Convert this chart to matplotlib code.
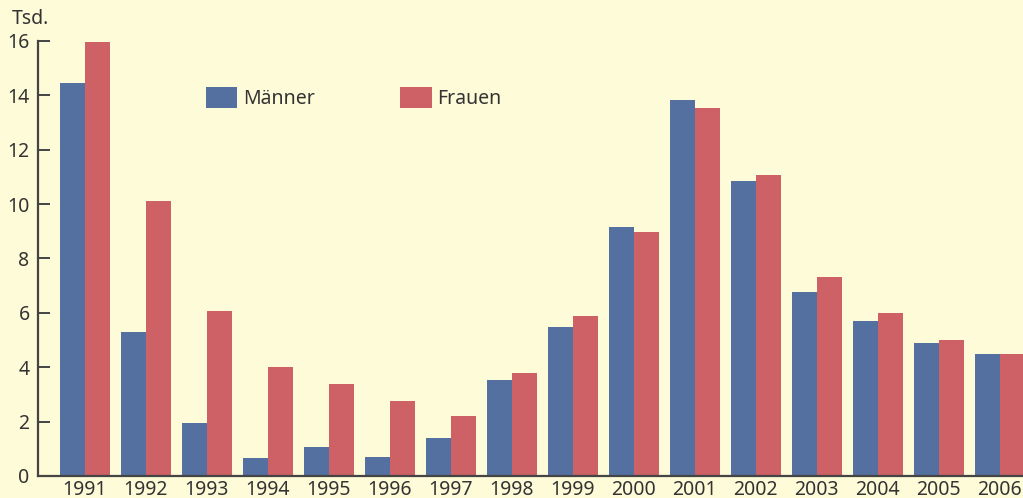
import numpy as np
import matplotlib
matplotlib.use("Agg")
import matplotlib.pyplot as plt
from matplotlib.patches import Patch

# Values in thousands (Tsd.)
years = ["1991", "1992", "1993", "1994", "1995", "1996", "1997", "1998",
         "1999", "2000", "2001", "2002", "2003", "2004", "2005", "2006"]
maenner = [14.45, 5.3, 1.95, 0.66, 1.07, 0.7, 1.4, 3.53,
           5.48, 9.16, 13.83, 10.85, 6.77, 5.7, 4.89, 4.49]
frauen = [15.96, 10.1, 6.07, 4.0, 3.38, 2.76, 2.2, 3.79,
          5.88, 8.97, 13.53, 11.07, 7.32, 6.0, 5.0, 4.49]

bg = "#FEFBD8"
blue = "#5470A0"
red = "#CD6165"
ink = "#333333"

plt.rcParams["font.family"] = ["Noto Sans", "DejaVu Sans"]

fig = plt.figure(figsize=(10.23, 4.98), dpi=100, facecolor=bg)
ax = fig.add_axes([0.0371, 0.0442, 0.9629, 0.8735], facecolor=bg)

x = np.arange(len(years))
w = 0.41
ax.bar(x - w / 2, maenner, width=w, color=blue, label="Männer")
ax.bar(x + w / 2, frauen, width=w, color=red, label="Frauen")

ax.set_xlim(-0.77, 15.38)
ax.set_ylim(0, 16)
ax.set_yticks(range(0, 17, 2))
ax.set_xticks(x)
ax.set_xticklabels(years)

for s in ["top", "right"]:
    ax.spines[s].set_visible(False)
for s in ["left", "bottom"]:
    ax.spines[s].set_color("#444444")
    ax.spines[s].set_linewidth(1.6)

ax.tick_params(axis="y", direction="in", length=8.5, width=1.4, color="#444444",
               labelsize=14, labelcolor=ink, pad=6)
ax.tick_params(axis="x", length=0, labelsize=14, labelcolor=ink, pad=3)

fig.text(0.011, 0.962, "Tsd.", fontsize=14, color=ink, va="center", ha="left")

handles = [Patch(facecolor=blue, label="Männer"), Patch(facecolor=red, label="Frauen")]
fig.legend(handles=handles, loc="upper left", bbox_to_anchor=(0.2014, 0.826),
           ncol=2, frameon=False, fontsize=14, handlelength=1.6, handleheight=1.3,
           handletextpad=0.3, columnspacing=4.4, borderpad=0, borderaxespad=0,
           labelcolor=ink)

fig.savefig("out.png", dpi=100, facecolor=bg)
